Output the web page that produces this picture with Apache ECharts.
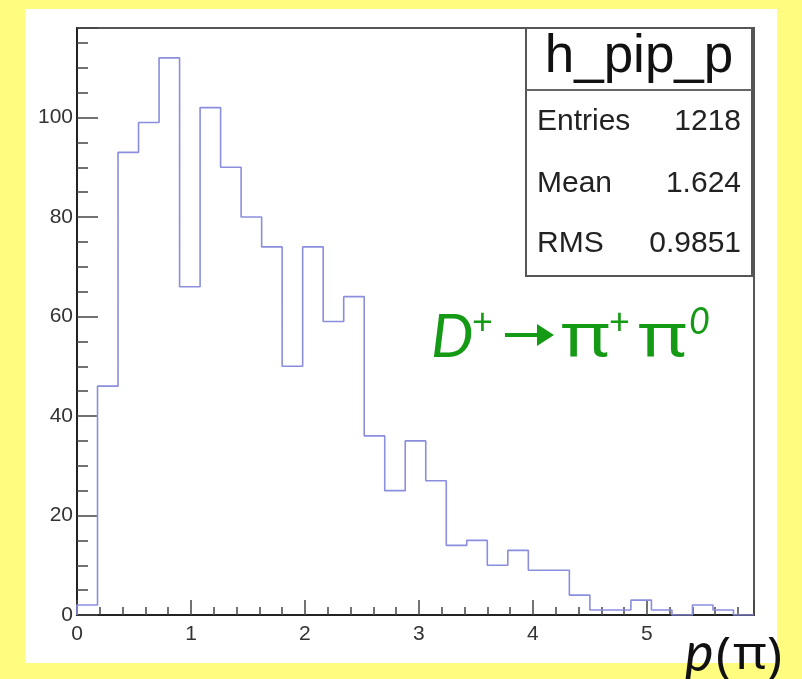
<!DOCTYPE html>
<html>
<head>
<meta charset="utf-8">
<script src="https://cdn.jsdelivr.net/npm/echarts@6/dist/echarts.min.js"></script>
<style>
  html, body { margin: 0; padding: 0; background: #fffc7f; }
  #main { width: 802px; height: 679px; }
</style>
</head>
<body>
<div id="main"></div>
<script>
// histogram h_pip_p, 33 bins of 0.18 starting at 0
var binWidth = 0.18;
var counts = [2, 46, 93, 99, 112, 66, 102, 90, 80, 74, 50, 74, 59, 64, 36, 25,
              35, 27, 14, 15, 10, 13, 9, 9, 4, 1, 1, 3, 1, 0, 2, 1, 0];
var statNames = ['Entries', 'Mean', 'RMS'];
var statValues = ['1218', '1.624', '0.9851'];
var histName = 'h_pip_p';

var chart = echarts.init(document.getElementById('main'), null, { renderer: 'canvas' });

// step outline: start at the base, one point per left bin edge, close at right edge
var pts = [[0, 0]];
for (var i = 0; i < counts.length; i++) {
  pts.push([+(i * binWidth).toFixed(2), counts[i]]);
}
pts.push([+(counts.length * binWidth).toFixed(2), counts[counts.length - 1]]);
var xMax = +(counts.length * binWidth).toFixed(2);

var labelFont = 'Liberation Sans';
var green = '#149a14';

var statTexts = [];
var rowY = [122, 184, 244];
for (var k = 0; k < statNames.length; k++) {
  statTexts.push({
    type: 'text', z: 11,
    style: { x: 537, y: rowY[k], text: statNames[k], fontFamily: labelFont, fontSize: 30,
             fill: '#222', align: 'left', verticalAlign: 'middle' }
  });
  statTexts.push({
    type: 'text', z: 11,
    style: { x: 741, y: rowY[k], text: statValues[k], fontFamily: labelFont, fontSize: 30,
             fill: '#222', align: 'right', verticalAlign: 'middle' }
  });
}

// little helper for the label glyphs, scaled around their own origin
function glyph(x, y, txt, size, opts) {
  opts = opts || {};
  return {
    type: 'text', z: 11, x: x, y: y, scaleX: opts.sx || 1,
    style: { x: 0, y: 0, text: txt, fontFamily: opts.family || 'Lato',
             fontStyle: opts.italic ? 'italic' : 'normal', fontSize: size,
             fill: opts.color || green, align: 'left', verticalAlign: 'middle' }
  };
}

option = {
  backgroundColor: '#fffc7f',
  animation: false,
  grid: {
    left: 77, top: 28, right: 48, bottom: 64,
    show: true, borderColor: '#555', borderWidth: 2, backgroundColor: 'transparent'
  },
  xAxis: {
    type: 'value',
    min: 0, max: xMax, interval: 1,
    axisLine: { lineStyle: { color: '#222', width: 2 } },
    axisTick: { inside: true, length: 15, lineStyle: { color: '#444', width: 1.5 } },
    minorTick: { show: true, splitNumber: 5, length: 8, lineStyle: { color: '#444', width: 1.5 } },
    axisLabel: { margin: 9, color: '#333', fontFamily: labelFont, fontSize: 21, showMaxLabel: false },
    splitLine: { show: false }
  },
  yAxis: {
    type: 'value',
    min: 0, max: 118, interval: 20,
    axisLine: { show: true, lineStyle: { color: '#222', width: 2 } },
    axisTick: { show: true, inside: true, length: 21, lineStyle: { color: '#444', width: 1.5 } },
    minorTick: { show: true, splitNumber: 4, length: 11, lineStyle: { color: '#444', width: 1.5 } },
    axisLabel: { margin: 4, color: '#333', fontFamily: labelFont, fontSize: 21, showMaxLabel: false },
    splitLine: { show: false }
  },
  series: [{
    type: 'line',
    step: 'end',
    symbol: 'none',
    data: pts,
    lineStyle: { color: '#8a8edc', width: 1.6 },
    z: 3
  }],
  graphic: [
    // white pad
    { type: 'rect', z: -10, shape: { x: 25, y: 9, width: 752, height: 654 }, style: { fill: '#ffffff' } },
    // stats box
    { type: 'rect', z: 10, shape: { x: 526, y: 28, width: 226, height: 248 },
      style: { fill: '#ffffff', stroke: '#555', lineWidth: 2 } },
    { type: 'line', z: 10, shape: { x1: 526, y1: 90, x2: 752, y2: 90 },
      style: { stroke: '#666', lineWidth: 2 } },
    { type: 'text', z: 11,
      style: { x: 639, y: 57, text: histName, fontFamily: labelFont, fontSize: 53,
               fill: '#111', align: 'center', verticalAlign: 'middle' } }
  ].concat(statTexts).concat([
    // D+ -> pi+ pi0
    glyph(431, 338, 'D', 60, { italic: true }),
    glyph(472, 322, '+', 36),
    { type: 'line', z: 11, shape: { x1: 505, y1: 335, x2: 541, y2: 335 },
      style: { stroke: green, lineWidth: 4 } },
    { type: 'polygon', z: 11, shape: { points: [[537, 324], [554, 335], [537, 346]] },
      style: { fill: green } },
    glyph(561, 339, '\u03c0', 60, { family: 'Noto Sans', sx: 1.25 }),
    glyph(609, 322, '+', 36),
    glyph(638, 339, '\u03c0', 60, { family: 'Noto Sans', sx: 1.25 }),
    glyph(689, 322, '0', 36, { italic: true }),
    // axis title p(pi)
    glyph(685, 654, 'p', 54, { italic: true, color: '#111' }),
    glyph(716, 658, '(', 50, { family: 'Noto Sans', color: '#111' }),
    glyph(733, 656, '\u03c0', 46, { family: 'Noto Sans', color: '#111', sx: 1.12 }),
    glyph(767, 658, ')', 50, { family: 'Noto Sans', color: '#111' })
  ])
};

chart.setOption(option);
</script>
</body>
</html>
